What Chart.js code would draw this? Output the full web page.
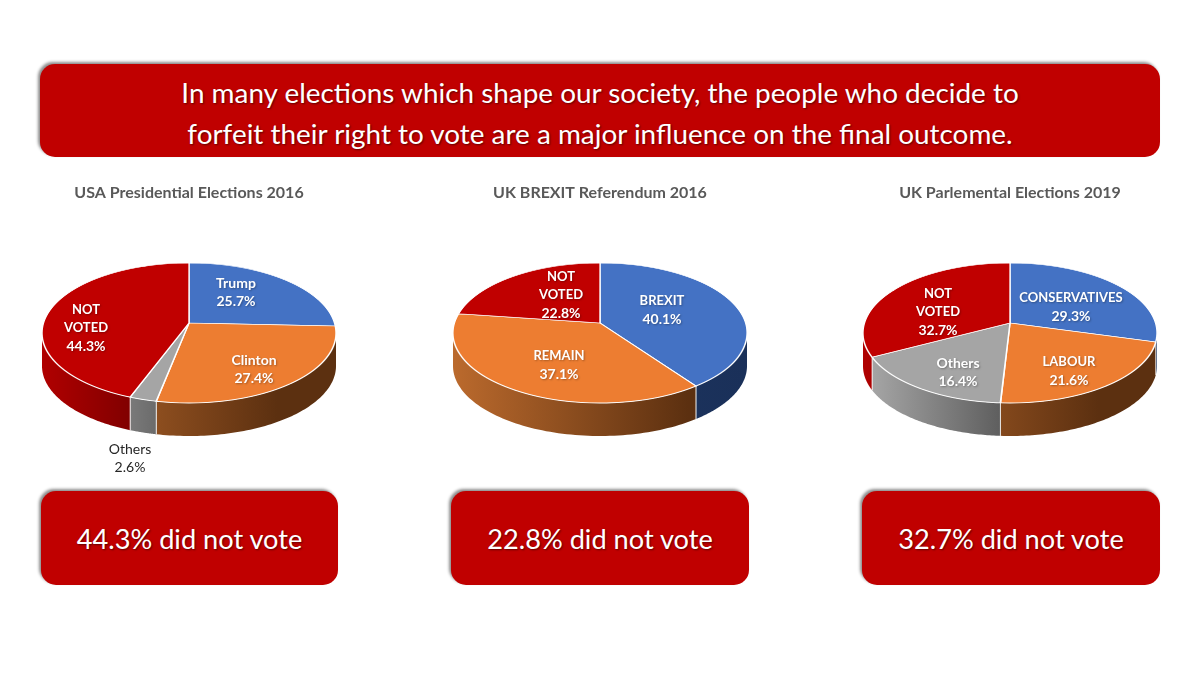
<!DOCTYPE html>
<html>
<head>
<meta charset="utf-8">
<title>Elections</title>
<script src="https://cdn.jsdelivr.net/npm/chart.js@4"></script>
<style>
  html, body { margin: 0; padding: 0; background: #fff; }
  body { width: 1200px; height: 675px; position: relative; overflow: hidden; font-family: Lato, "Open Sans", sans-serif; }
  canvas { position: absolute; top: 170px; }
  .box {
    position: absolute; background: #c00000; color: #fff; border-radius: 15px;
    box-shadow: -2px -2px 3px rgba(0,0,0,.45);
    text-shadow: 1px 1px 2px rgba(0,0,0,.5);
    display: flex; align-items: center; justify-content: center; text-align: center;
  }
  #headline { left: 40px; top: 64px; width: 1120px; height: 93px; font-size: 27.9px; line-height: 41px; padding-top: 4px; box-sizing: border-box; }
  .note { top: 491px; height: 94px; font-size: 27.2px; }
</style>
</head>
<body>
<div class="box" id="headline">In many elections which shape our society, the people who decide to<br>forfeit their right to vote are a major influence on the final outcome.</div>
<div class="box note" id="note0" style="left:41px;width:297px"></div>
<div class="box note" id="note1" style="left:451px;width:298px"></div>
<div class="box note" id="note2" style="left:862px;width:298px"></div>
<canvas id="pie0" width="340" height="310" style="left:19px"></canvas>
<canvas id="pie1" width="340" height="310" style="left:430px"></canvas>
<canvas id="pie2" width="340" height="310" style="left:840px"></canvas>
<script>
const BLUE = "#4472c4", ORANGE = "#ed7d31", GREY = "#a5a5a5", RED = "#c00000";

// data
const usaTitle = "USA Presidential Elections 2016";
const usaLabels = ["Trump", "Clinton", "Others", "NOT VOTED"];
const usaValues = [25.7, 27.4, 2.6, 44.3];
const usaColors = [BLUE, ORANGE, GREY, RED];

const brexitTitle = "UK BREXIT Referendum 2016";
const brexitLabels = ["BREXIT", "REMAIN", "NOT VOTED"];
const brexitValues = [40.1, 37.1, 22.8];
const brexitColors = [BLUE, ORANGE, RED];

const ukTitle = "UK Parlemental Elections 2019";
const ukLabels = ["CONSERVATIVES", "LABOUR", "Others", "NOT VOTED"];
const ukValues = [29.3, 21.6, 16.4, 32.7];
const ukColors = [BLUE, ORANGE, GREY, RED];

// where the slice labels sit, page coordinates of the first line
const usaSpots = [[236, 283], [254, 360], [130, 449], [86, 310]];
const brexitSpots = [[662, 301], [559, 356], [561, 277]];
const ukSpots = [[1071, 298], [1069, 362], [958, 363], [938, 294]];

// side wall colours: light, dark, and how far across the disc the dark is reached
const wallColors = {};
wallColors[BLUE] = ["#1f3864", "#1a3059", 1];
wallColors[ORANGE] = ["#bb6a2d", "#5c3010", 0.8];
wallColors[GREY] = ["#aaaaaa", "#5e5e5e", 0.47];
wallColors[RED] = ["#b00000", "#7c0000", 0.33];

// perspective of the tilted disc, all in pixels around the slice apex
const TOP_H = 60, BOTTOM_H = 80, HALF_W = 147, DEPTH = 33, APEX_Y = 153;
const t = -(BOTTOM_H - TOP_H) / (BOTTOM_H + TOP_H);
const A = BOTTOM_H * (1 + t);
const C = HALF_W * Math.sqrt(1 - t * t);

function project(angle) {
  const u = Math.cos(angle), v = Math.sin(angle), w = 1 + t * v;
  return [C * u / w, A * v / w];
}

const tiltedPie = {
  id: "tiltedPie",
  beforeDatasetsDraw(chart) {
    const ctx = chart.ctx;
    const arcs = chart.getDatasetMeta(0).data;
    const colors = chart.data.datasets[0].backgroundColor;
    const mid = chart.width / 2;
    const limit = Math.asin(-t);

    // side walls
    arcs.forEach((arc, i) => {
      const lo = Math.max(arc.startAngle, limit);
      const hi = Math.min(arc.endAngle, Math.PI - limit);
      if (lo >= hi) return;
      const pts = [];
      for (let s = 0; s <= 80; s++) pts.push(project(lo + (hi - lo) * s / 80));
      const wall = wallColors[colors[i]];
      const grad = ctx.createLinearGradient(mid - HALF_W, 0, mid + HALF_W, 0);
      grad.addColorStop(0, wall[0]);
      grad.addColorStop(wall[2], wall[1]);
      grad.addColorStop(1, wall[1]);
      ctx.beginPath();
      pts.forEach(p => ctx.lineTo(mid + p[0], APEX_Y + p[1]));
      pts.slice().reverse().forEach(p => ctx.lineTo(mid + p[0], APEX_Y + p[1] + DEPTH));
      ctx.closePath();
      ctx.fillStyle = grad;
      ctx.fill();
      // white seam where the slices meet
      [arc.startAngle, arc.endAngle].forEach(a => {
        if (a <= limit || a >= Math.PI - limit) return;
        const p = project(a);
        ctx.beginPath();
        ctx.moveTo(mid + p[0], APEX_Y + p[1]);
        ctx.lineTo(mid + p[0], APEX_Y + p[1] + DEPTH);
        ctx.strokeStyle = "rgba(255,255,255,0.7)";
        ctx.lineWidth = 1;
        ctx.stroke();
      });
    });

    // top face: one pixel row at a time, each with its own scale, gives the perspective
    const R = arcs[0].outerRadius, cx = arcs[0].x, cy = arcs[0].y;
    for (let row = APEX_Y - TOP_H - 3; row < APEX_Y + BOTTOM_H + 3; row++) {
      const Y = row + 0.5 - APEX_Y;
      const v = Y / (A - t * Y);
      const w = 1 + t * v;
      const sx = C / (w * R);
      const sy = A / (w * w * R);
      ctx.save();
      ctx.beginPath();
      ctx.rect(0, row, chart.width, 1);
      ctx.clip();
      ctx.transform(sx, 0, 0, sy, mid - sx * cx, row + 0.5 - sy * (cy + v * R));
      arcs.forEach(arc => arc.draw(ctx));
      ctx.restore();
    }
    return false;
  },
  afterDraw(chart, args, opts) {
    const ctx = chart.ctx;
    const left = chart.canvas.offsetLeft, top = chart.canvas.offsetTop;
    ctx.save();
    ctx.textAlign = "center";
    ctx.textBaseline = "middle";
    chart.data.labels.forEach((label, i) => {
      const lines = label.split(" ").concat(chart.data.datasets[0].data[i].toFixed(1) + "%");
      const outside = opts.spots[i][1] > 430;
      ctx.fillStyle = outside ? "#262626" : "#fff";
      ctx.shadowColor = outside ? "transparent" : "rgba(0,0,0,0.3)";
      ctx.shadowBlur = 2;
      ctx.shadowOffsetX = 1;
      ctx.shadowOffsetY = 1;
      lines.forEach((line, n) => {
        // capitals run wide in this font, so they get a smaller size
        const caps = /^[A-Z]+$/.test(line);
        ctx.font = (outside ? "" : "bold ") + (caps ? "13px" : "14px") + " Lato";
        ctx.fillText(line, opts.spots[i][0] - left, opts.spots[i][1] - top + n * 18);
      });
    });
    ctx.restore();
  }
};

function makePie(id, title, labels, values, colors, spots) {
  return new Chart(document.getElementById(id), {
    type: "pie",
    data: {
      labels: labels,
      datasets: [{
        data: values,
        backgroundColor: colors,
        borderColor: "#ffffff",
        borderWidth: 1.3
      }]
    },
    options: {
      responsive: false,
      animation: false,
      layout: { padding: 0 },
      plugins: {
        legend: { display: false },
        tooltip: { enabled: false },
        title: {
          display: true,
          text: title,
          color: "#595959",
          font: { family: "Lato", size: 16, weight: "bold" },
          padding: { top: 13, bottom: 10 }
        },
        tiltedPie: { spots: spots }
      }
    },
    plugins: [tiltedPie]
  });
}

makePie("pie0", usaTitle, usaLabels, usaValues, usaColors, usaSpots);
makePie("pie1", brexitTitle, brexitLabels, brexitValues, brexitColors, brexitSpots);
makePie("pie2", ukTitle, ukLabels, ukValues, ukColors, ukSpots);

document.getElementById("note0").innerText = usaValues[3].toFixed(1) + "% did not vote";
document.getElementById("note1").innerText = brexitValues[2].toFixed(1) + "% did not vote";
document.getElementById("note2").innerText = ukValues[3].toFixed(1) + "% did not vote";
</script>
</body>
</html>
